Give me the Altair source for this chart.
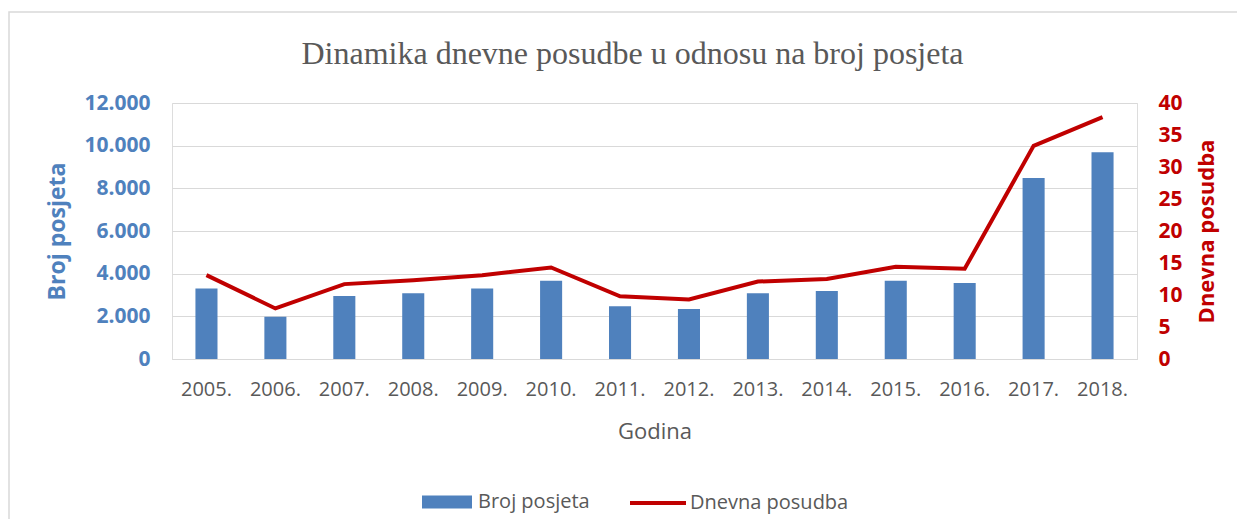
import altair as alt
import pandas as pd

years = ["2005.", "2006.", "2007.", "2008.", "2009.", "2010.", "2011.",
         "2012.", "2013.", "2014.", "2015.", "2016.", "2017.", "2018."]
visits = [3300, 1980, 2950, 3080, 3310, 3670, 2470, 2340, 3080, 3190, 3670, 3560, 8490, 9690]
loans = [13.1, 7.9, 11.7, 12.3, 13.1, 14.3, 9.8, 9.3, 12.1, 12.5, 14.4, 14.1, 33.3, 37.8]
left_ticks = [0, 2000, 4000, 6000, 8000, 10000, 12000]
right_ticks = [0, 5, 10, 15, 20, 25, 30, 35, 40]

BLUE = "#4F81BD"
RED = "#C00000"
GRAY = "#595959"
GRID = "#D9D9D9"
FONT = "Open Sans"

df = pd.DataFrame({
    "Godina": years,
    "Broj posjeta": visits,
    "Dnevna posudba": loans,
    "s1": ["Broj posjeta"] * len(years),
    "s2": ["Dnevna posudba"] * len(years),
})

x = alt.X(
    "Godina:N", sort=years,
    scale=alt.Scale(paddingInner=0.68, paddingOuter=0.34),
    axis=alt.Axis(title="Godina", labelAngle=0, labelFont=FONT, labelFontSize=20,
                  labelColor=GRAY, labelPadding=20, ticks=False, domainColor=GRID,
                  domainWidth=1, titleFont=FONT, titleFontSize=22, titleFontWeight="normal",
                  titleColor=GRAY, titlePadding=22),
)

border = alt.Chart(pd.DataFrame({"a": [0]})).mark_rect(
    filled=False, stroke=GRID, strokeWidth=1.5
).encode(x=alt.value(-163), x2=alt.value(1300), y=alt.value(-91), y2=alt.value(460))

bars = alt.Chart(df).mark_bar().encode(
    x=x,
    y=alt.Y("Broj posjeta:Q", scale=alt.Scale(domain=[0, 12000], nice=False),
            axis=alt.Axis(orient="left", values=left_ticks, title="Broj posjeta",
                          labelExpr="replace(format(datum.value, ','), ',', '.')",
                          labelFont=FONT, labelFontSize=21, labelFontWeight="bold",
                          labelColor=BLUE, labelPadding=22, ticks=False, domain=False,
                          grid=True, gridColor=GRID, gridWidth=1,
                          titleFont=FONT, titleFontSize=23, titleFontWeight="bold",
                          titleColor=BLUE, titlePadding=14)),
    fill=alt.Fill("s1:N", scale=alt.Scale(range=[BLUE]),
                  legend=alt.Legend(title=None, orient="none", legendX=250, legendY=374,
                                    symbolType="M-1,-0.26L1,-0.26L1,0.26L-1,0.26Z",
                                    symbolSize=2500, symbolStrokeWidth=0, symbolOpacity=1,
                                    labelFont=FONT, labelFontSize=20, labelColor=GRAY,
                                    labelOffset=6, padding=0)),
)

line = alt.Chart(df).mark_line(strokeWidth=4).encode(
    x=x,
    y=alt.Y("Dnevna posudba:Q", scale=alt.Scale(domain=[0, 40], nice=False),
            axis=alt.Axis(orient="right", values=right_ticks, title="Dnevna posudba",
                          labelFont=FONT, labelFontSize=21, labelFontWeight="bold",
                          labelColor=RED, labelPadding=21, ticks=False, domain=False,
                          grid=False, titleAngle=270, titleBaseline="top",
                          titleFont=FONT, titleFontSize=22, titleFontWeight="bold",
                          titleColor=RED, titlePadding=14)),
    stroke=alt.Stroke("s2:N", scale=alt.Scale(range=[RED]),
                      legend=alt.Legend(title=None, orient="none", legendX=456, legendY=370,
                                        symbolType="stroke", symbolSize=3136,
                                        symbolStrokeWidth=4,
                                        labelFont=FONT, labelFontSize=20, labelColor=GRAY,
                                        labelOffset=2, padding=0)),
)

chart = alt.layer(border, bars, line).resolve_scale(y="independent").properties(
    width=965, height=256,
    autosize=alt.AutoSizeParams(type="none"),
    padding={"left": 164, "top": 95, "right": 100, "bottom": 160},
    title=alt.TitleParams("Dinamika  dnevne posudbe u odnosu na broj posjeta",
                          font="Liberation Serif", fontSize=32, fontWeight="normal",
                          color=GRAY, anchor="middle", frame="group", offset=-60, dx=-22),
).configure_view(stroke=None).configure(background="white")

chart.save("out.html", embed_options={"renderer": "svg", "actions": False})
